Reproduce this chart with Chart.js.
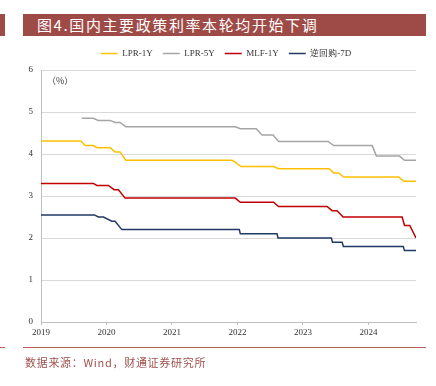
<!DOCTYPE html>
<html>
<head>
<meta charset="utf-8">
<script src="https://cdn.jsdelivr.net/npm/chart.js@4.4.1/dist/chart.umd.min.js"></script>
<style>
  html, body { margin: 0; padding: 0; background: #fff; }
  #wrap { position: relative; width: 436px; height: 386px; overflow: hidden; }
  #chart { position: absolute; left: 0; top: 0; }
  .bar { position: absolute; background: #9e4b48; }
  #title { position: absolute; left: 23px; top: 14px; width: 403px; height: 22px; background: #9e4b48;
    color: #fff; font: 15px "Noto Sans CJK SC", sans-serif; line-height: 22px; padding-left: 14px;
    box-sizing: border-box; letter-spacing: 1.6px; white-space: nowrap; }
  #source { position: absolute; left: 25px; top: 354px; color: #a0524e;
    font: 11px "Noto Sans CJK SC", sans-serif; letter-spacing: 0.7px; white-space: nowrap; }
</style>
</head>
<body>
<div id="wrap">
  <canvas id="chart" width="436" height="386"></canvas>
  <div class="bar" style="left:0;top:14px;width:5px;height:22px"></div>
  <div id="title">图4.国内主要政策利率本轮均开始下调</div>
  <div class="bar" style="left:0;top:347px;width:5px;height:1px;background:#b5605a"></div>
  <div class="bar" style="left:23px;top:347px;width:403px;height:1px;background:#b5605a"></div>
  <div id="source">数据来源：Wind，财通证券研究所</div>
</div>
<script>
/* series: x = decimal year, y = rate (%) */
const seriesNames = ['LPR-1Y', 'LPR-5Y', 'MLF-1Y', '逆回购-7D'];
const seriesColors = ['#ffc000', '#a5a5a5', '#c00000', '#203864'];
const yearTicks = [2019, 2020, 2021, 2022, 2023, 2024];

const lpr1yX = [2019.0, 2019.607, 2019.647, 2019.673, 2019.8, 2019.856, 2020.055, 2020.131, 2020.208, 2020.295,
  2021.916, 2021.97, 2022.054, 2022.552, 2022.628, 2023.4, 2023.469, 2023.546, 2023.622, 2024.463, 2024.54, 2024.726];
const lpr1yY = [4.31, 4.31, 4.25, 4.2, 4.2, 4.15, 4.15, 4.05, 4.05, 3.85,
  3.85, 3.8, 3.7, 3.7, 3.65, 3.65, 3.55, 3.55, 3.45, 3.45, 3.35, 3.35];

const lpr5yX = [2019.622, 2019.8, 2019.872, 2020.055, 2020.131, 2020.208, 2020.295, 2021.966, 2022.043, 2022.287,
  2022.375, 2022.543, 2022.628, 2023.384, 2023.469, 2024.057, 2024.122, 2024.474, 2024.55, 2024.726];
const lpr5yY = [4.85, 4.85, 4.8, 4.8, 4.75, 4.75, 4.65, 4.65, 4.6, 4.6,
  4.45, 4.45, 4.3, 4.3, 4.2, 4.2, 3.95, 3.95, 3.85, 3.85];

const mlfX = [2019.0, 2019.8, 2019.852, 2020.029, 2020.116, 2020.182, 2020.284, 2021.966, 2022.043, 2022.552,
  2022.628, 2023.368, 2023.445, 2023.521, 2023.613, 2024.515, 2024.55, 2024.631, 2024.726];
const mlfY = [3.3, 3.3, 3.25, 3.25, 3.15, 3.15, 2.95, 2.95, 2.85, 2.85,
  2.75, 2.75, 2.65, 2.65, 2.5, 2.5, 2.3, 2.3, 2.0];

const repoX = [2019.0, 2019.815, 2019.876, 2019.953, 2020.081, 2020.131, 2020.234, 2022.028, 2022.043, 2022.604,
  2022.619, 2023.434, 2023.45, 2023.598, 2023.618, 2024.531, 2024.55, 2024.726];
const repoY = [2.55, 2.55, 2.5, 2.5, 2.4, 2.4, 2.2, 2.2, 2.1, 2.1,
  2.0, 2.0, 1.9, 1.9, 1.8, 1.8, 1.7, 1.7];

function pts(xs, ys) { return xs.map((x, i) => ({ x: x, y: ys[i] })); }
const allData = [pts(lpr1yX, lpr1yY), pts(lpr5yX, lpr5yY), pts(mlfX, mlfY), pts(repoX, repoY)];

/* "(%)" unit label inside plot, and a small nudge of the legend box */
const extras = {
  id: 'extras',
  afterLayout(chart) {
    const lg = chart.legend;
    if (!lg) return;
    lg.left += 4; lg.right += 4;
    lg.top -= 2; lg.bottom -= 2;
  },
  afterDraw(chart) {
    const ctx = chart.ctx, a = chart.chartArea;
    ctx.save();
    ctx.font = '9px "Noto Sans CJK SC", sans-serif';
    ctx.fillStyle = '#404040';
    ctx.textBaseline = 'middle';
    ctx.fillText('（%）', a.left + 6, a.top + 11);
    ctx.restore();
  }
};

const ctx = document.getElementById('chart').getContext('2d');
new Chart(ctx, {
  type: 'line',
  data: {
    datasets: allData.map((d, i) => ({
      label: seriesNames[i],
      data: d,
      borderColor: seriesColors[i],
      backgroundColor: seriesColors[i],
      borderWidth: 1.5,
      pointRadius: 0,
      tension: 0,
      fill: false
    }))
  },
  options: {
    responsive: false,
    animation: false,
    layout: { padding: { top: 41, left: 28, right: 20, bottom: 38 } },
    plugins: {
      legend: {
        position: 'top',
        labels: {
          usePointStyle: true,
          pointStyle: 'line',
          pointStyleWidth: 17,
          boxWidth: 17,
          padding: 10,
          color: '#333',
          font: { family: '"Liberation Serif", serif', size: 9 }
        }
      },
      tooltip: { enabled: false }
    },
    scales: {
      x: {
        type: 'linear',
        min: 2019,
        max: 2024.726,
        afterBuildTicks: s => { s.ticks = yearTicks.map(v => ({ value: v })); },
        afterFit: s => { s.height = 26; },
        grid: { drawOnChartArea: false, drawTicks: true, tickLength: 3, color: '#bfbfbf' },
        border: { color: '#bfbfbf' },
        ticks: {
          maxRotation: 0,
          padding: 2,
          color: '#333',
          font: { family: '"Liberation Serif", serif', size: 9 },
          callback: v => String(v)
        }
      },
      y: {
        min: 0,
        max: 6,
        afterFit: s => { s.width = 13; },
        grid: { color: '#d9d9d9', drawTicks: false },
        border: { color: '#bfbfbf' },
        ticks: {
          stepSize: 1,
          padding: 8,
          color: '#333',
          font: { family: '"Liberation Serif", serif', size: 9 }
        }
      }
    }
  },
  plugins: [extras]
});
</script>
</body>
</html>
